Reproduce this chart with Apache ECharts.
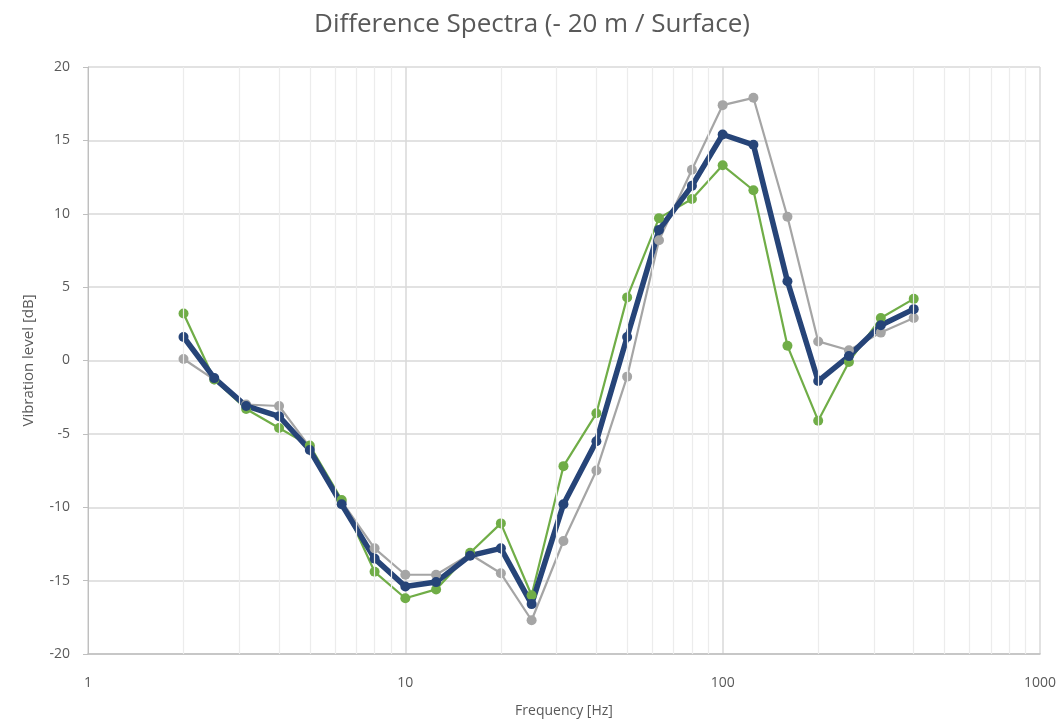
<!DOCTYPE html>
<html>
<head>
<meta charset="utf-8">
<script src="https://cdn.jsdelivr.net/npm/echarts@6/dist/echarts.min.js"></script>
<style>
  html, body { margin: 0; padding: 0; background: #fff; }
  #chart { width: 1064px; height: 726px; }
</style>
</head>
<body>
<div id="chart"></div>
<script>
// third-octave band centre frequencies [Hz]
var freqs = [2, 2.5, 3.15, 4, 5, 6.3, 8, 10, 12.5, 16, 20, 25, 31.5, 40, 50, 63, 80, 100, 125, 160, 200, 250, 315, 400]
var grayVals = [0.1, -1.3, -3.0, -3.1, -5.9, -9.6, -12.8, -14.6, -14.6, -13.2, -14.5, -17.7, -12.3, -7.5, -1.1, 8.2, 13.0, 17.4, 17.9, 9.8, 1.3, 0.7, 1.9, 2.9]
var greenVals = [3.2, -1.3, -3.3, -4.6, -5.8, -9.5, -14.4, -16.2, -15.6, -13.1, -11.1, -16.0, -7.2, -3.6, 4.3, 9.7, 11.0, 13.3, 11.6, 1.0, -4.1, -0.1, 2.9, 4.2]
var blueVals = [1.6, -1.2, -3.1, -3.8, -6.1, -9.8, -13.5, -15.4, -15.1, -13.3, -12.8, -16.6, -9.8, -5.5, 1.6, 8.9, 11.9, 15.4, 14.7, 5.4, -1.4, 0.3, 2.4, 3.5]
// minor vertical grid positions on the log axis
var minorGrid = [2, 3, 4, 5, 6, 7, 8, 9, 20, 30, 40, 50, 60, 70, 80, 90, 200, 300, 400, 500, 600, 700, 800, 900]

var textColor = '#595959'
var fontFamily = '"Open Sans", "Liberation Sans", sans-serif'

function pairs (ys) {
  return freqs.map(function (f, i) { return [f, ys[i]] })
}

var chart = echarts.init(document.getElementById('chart'))
chart.setOption({
  animation: false,
  backgroundColor: '#fff',
  textStyle: { fontFamily: fontFamily },
  title: {
    text: 'Difference Spectra (- 20 m / Surface)',
    left: 'center',
    top: 7,
    textStyle: { color: textColor, fontSize: 26, fontWeight: 'normal', fontFamily: fontFamily }
  },
  grid: { left: 88, right: 24, top: 67, bottom: 72 },
  xAxis: {
    type: 'log',
    logBase: 10,
    min: 1,
    max: 1000,
    name: 'Frequency [Hz]',
    nameLocation: 'middle',
    nameGap: 50,
    nameTextStyle: { color: textColor, fontSize: 14 },
    axisLine: { onZero: false, lineStyle: { color: '#bfbfbf', width: 1.5 } },
    axisTick: { show: false },
    axisLabel: { color: textColor, fontSize: 14, margin: 22, formatter: function (v) { return String(v) } },
    splitLine: { show: true, lineStyle: { color: '#d9d9d9', width: 1.5 } }
  },
  yAxis: {
    type: 'value',
    min: -20,
    max: 20,
    interval: 5,
    name: 'Vibration level [dB]',
    nameLocation: 'middle',
    nameGap: 52,
    nameTextStyle: { color: textColor, fontSize: 15 },
    axisLine: { show: true, lineStyle: { color: '#bfbfbf', width: 1 } },
    axisTick: { show: true, length: 5, lineStyle: { color: '#bfbfbf' } },
    axisLabel: { color: textColor, fontSize: 14, margin: 18 },
    splitLine: { lineStyle: { color: '#d9d9d9', width: 1.5 } }
  },
  series: [
    {
      name: 'minor grid',
      type: 'line',
      data: [],
      silent: true,
      markLine: {
        silent: true,
        symbol: 'none',
        label: { show: false },
        lineStyle: { color: '#ececec', width: 1.2, type: 'solid' },
        data: minorGrid.map(function (v) { return { xAxis: v } })
      }
    },
    {
      name: 'gray',
      type: 'line',
      data: pairs(grayVals),
      symbol: 'circle',
      symbolSize: 10,
      lineStyle: { color: '#a5a5a5', width: 2.2 },
      itemStyle: { color: '#a5a5a5' }
    },
    {
      name: 'green',
      type: 'line',
      data: pairs(greenVals),
      symbol: 'circle',
      symbolSize: 10,
      lineStyle: { color: '#70ad47', width: 2.2 },
      itemStyle: { color: '#70ad47' }
    },
    {
      name: 'blue',
      type: 'line',
      data: pairs(blueVals),
      symbol: 'circle',
      symbolSize: 10,
      lineStyle: { color: '#264478', width: 5.5 },
      itemStyle: { color: '#264478' }
    }
  ]
})
</script>
</body>
</html>
